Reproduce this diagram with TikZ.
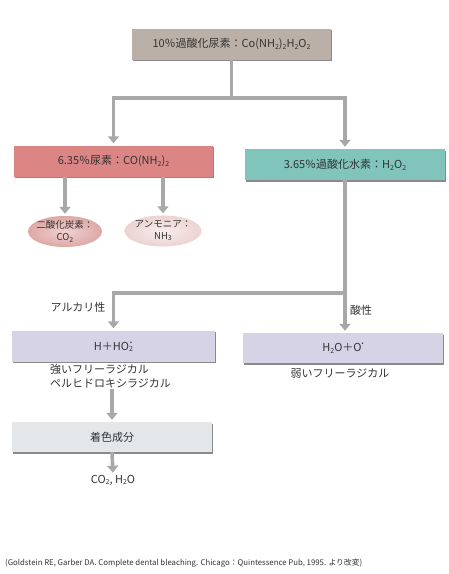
\documentclass[tikz,border=0pt]{standalone}
\usepackage{fontspec}
\setmainfont{Noto Sans CJK JP}
\usetikzlibrary{arrows.meta,shapes.geometric,shadows}
\definecolor{txt}{HTML}{333333}
\definecolor{arrgray}{HTML}{A8A8A8}
\definecolor{topfill}{HTML}{BBB0A8}
\definecolor{pinkfill}{HTML}{DC8585}
\definecolor{tealfill}{HTML}{80C4BB}
\definecolor{lavfill}{HTML}{D6D3E6}
\definecolor{greyfill}{HTML}{E4E7EA}
\definecolor{ellAin}{HTML}{F0D2D0}
\definecolor{ellAout}{HTML}{DDA8A6}
\definecolor{ellBin}{HTML}{F8EEEC}
\definecolor{ellBout}{HTML}{EBD3D0}
\newcommand\dn[1]{\raisebox{-0.3ex}{\fontsize{7}{7}\selectfont #1}}
\newcommand\rad{\raisebox{1.0ex}{\fontsize{6}{6}\selectfont •}}
\newcommand\radtwo{\ooalign{\dn{2}\cr\hidewidth\rad\hidewidth\cr}}
\tikzset{
  box/.style={rectangle, minimum width=199pt, minimum height=31pt, inner sep=0pt,
    font=\fontsize{11}{13}\selectfont, text=txt,
    drop shadow={shadow xshift=1.2pt, shadow yshift=-1.5pt, opacity=0.7, fill=black!65}},
  ell/.style={ellipse, minimum width=74pt, minimum height=31pt, inner xsep=-3pt, inner ysep=-2pt,
    font=\fontsize{9.5}{11.5}\selectfont, text=txt, align=center},
  lbl/.style={font=\fontsize{11}{14}\selectfont, text=txt, inner sep=0pt},
  arr/.style={draw=arrgray, line width=3.6pt, -{Triangle[width=11pt,length=7pt]}, shorten >=2pt},
  ln/.style={draw=arrgray, line width=3.6pt},
}
\begin{document}
\begin{tikzpicture}[x=1pt,y=-1pt]
\useasboundingbox[fill=white] (0,0) rectangle (449,574);
\node[box, fill=topfill] (top) at (231.5,44) {10％過酸化尿素：Co(NH\dn{2})\dn{2}H\dn{2}O\dn{2}};
\node[box, fill=pinkfill] (urea) at (113.5,161) {6.35％尿素：CO(NH\dn{2})\dn{2}};
\node[box, fill=tealfill, minimum width=200pt] (hp) at (345,164.5) {3.65％過酸化水素：H\dn{2}O\dn{2}};
\node[ell, inner color=ellAin, outer color=ellAout] (co2) at (65,231.5) {二酸化炭素：\\CO\dn{2}};
\node[ell, inner color=ellBin, outer color=ellBout, minimum width=77pt] (nh3) at (163,231) {アンモニア：\\NH\dn{3}};
\node[box, fill=lavfill, minimum width=203pt] (alkbox) at (113.5,346) {H＋HO\radtwo};
\node[box, fill=lavfill, minimum width=200pt, minimum height=30pt] (acbox) at (343,348) {H\dn{2}O＋O\rad};
\node[lbl] (alk) at (78,307) {アルカリ性};
\node[lbl] (acid) at (361,310) {酸性};
\node[lbl, anchor=north west, align=left] (strong) at (50,364) {強いフリーラジカル\\ペルヒドロキシラジカル};
\node[lbl] (weak) at (340,374) {弱いフリーラジカル};
\node[box, fill=greyfill, minimum width=200pt, minimum height=30pt] (stain) at (112,437) {着色成分};
\node[lbl] (prod) at (113,480) {CO\dn{2}, H\dn{2}O};
\node[lbl, anchor=west, font=\fontsize{7.8}{9}\selectfont] (ref) at (5,563) {(Goldstein RE, Garber DA. Complete dental bleaching. Chicago：Quintessence Pub, 1995. より改変)};
\coordinate (j1) at (231.5,98);
\coordinate (j2) at (345,293);
\draw[ln] (top.south) -- (j1);
\draw[arr] (j1) -| (urea.north);
\draw[arr] (j1) -| (hp.north);
\draw[arr] (co2 |- urea.south) -- (co2.north);
\draw[arr] (nh3 |- urea.south) -- (nh3.north);
\draw[ln] (hp.south) -- (j2);
\draw[arr] (j2) -| (alkbox.north);
\draw[arr] (j2) -- (j2 |- acbox.north);
\draw[arr] (stain.north |- strong.south) ++(0,1) -- (stain.north);
\draw[arr] (stain.south) -- (prod.north);
\end{tikzpicture}
\end{document}
